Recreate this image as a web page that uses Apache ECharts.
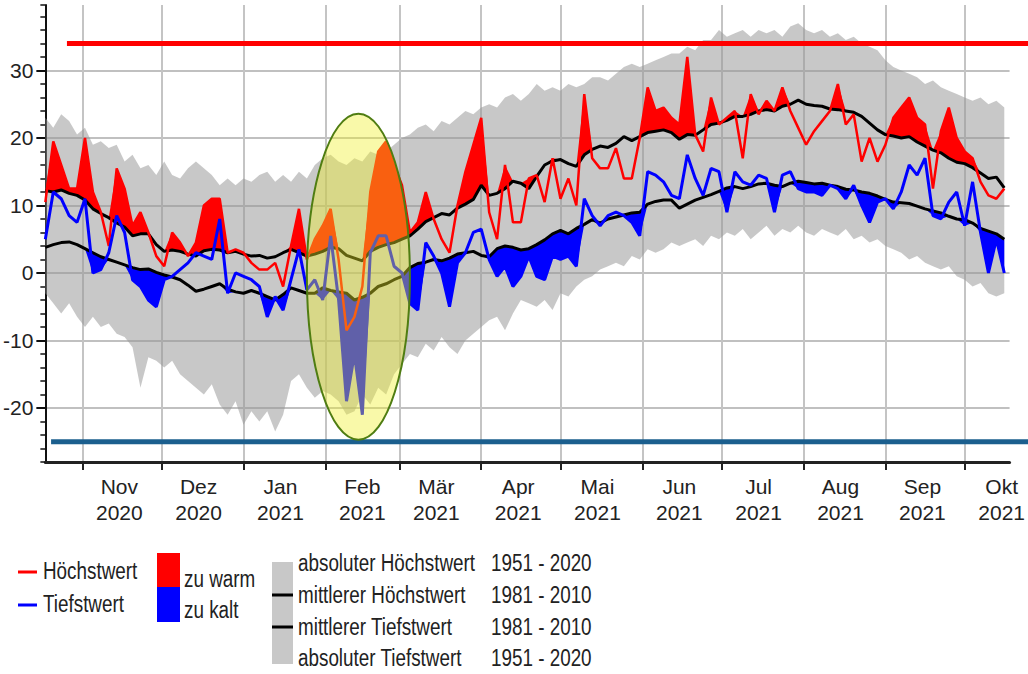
<!DOCTYPE html>
<html>
<head>
<meta charset="utf-8">
<script src="https://cdn.jsdelivr.net/npm/echarts@6/dist/echarts.min.js"></script>
<style>
html,body{margin:0;padding:0;background:#fff;}
#c{width:1028px;height:674px;}
</style>
</head>
<body>
<div id="c"></div>
<script>
// ---------- data (one value every 3 days from 18 Oct 2020) ----------
const startDate = '2020-10-18';
const endDate = '2021-10-18';
const stepDays = 3;
const monthStarts = ['2020-11-01','2020-12-01','2021-01-01','2021-02-01','2021-03-01','2021-04-01',
                     '2021-05-01','2021-06-01','2021-07-01','2021-08-01','2021-09-01','2021-10-01'];
const monthLabels = ['Nov\n2020','Dez\n2020','Jan\n2021','Feb\n2021','Mär\n2021','Apr\n2021',
                     'Mai\n2021','Jun\n2021','Jul\n2021','Aug\n2021','Sep\n2021','Okt\n2021'];
const yTicks = [-20,-10,0,10,20,30];

// Höchstwert
const tMax = [10.5,19.5,16,12.5,12.5,20,12,9,4,15.5,
  12.5,7,9,6,2.5,1,6,4.5,2.5,4.5,
  10,11,11,3,3.5,3,1.5,0.5,0.5,1.5,
  -2,4,9.5,2,5,7,9.5,2,-8.5,-6.5,
  -2,12,18,19.5,16,13,6,7.5,12,8,
  5,3,10,15,19,23,9,5,16,7.5,
  7.5,14,14.5,10.5,17,11,14,10,26.5,17,
  15.5,15.5,18.5,14,14,20,27.5,24,24.5,23,
  22,32,20.5,18,26,22,23,24,17,26.5,
  23.5,25.5,24,27.5,24,21.5,19,21,22.5,24,
  28,22,23.5,16.5,20,16.5,19,23,24.5,26,
  23,22,12.5,21,24.5,20,18,17,13.5,11.5,
  11,12.5];
// Tiefstwert
const tMin = [5,12,11,8.5,7.5,11,0,0.5,3,8.5,
  6,-1,-2,-4,-5,-1,-0.5,0.5,1.5,3,
  2.5,2,8,-3,0,-0.5,-1,-2,-6.5,-3.5,
  -5.5,-1,3.5,-2.5,-1,-4,5.5,-4,-19,-12,
  -21,3,5.5,5.5,1,0,-4.5,-5.5,4.5,2.5,
  0,-5,1.5,3,6,6.5,2,-0.5,1,-2,
  -0.5,2.5,-0.5,-1,2.5,2,2.5,1,11,8.5,
  7,8.5,9,8.5,7.5,5.5,15,14.5,13.5,11.5,
  11,17.5,14,11.5,15.5,15,9,15,13.5,13,
  14.5,14,9,14.5,15,12.5,12,12,11.5,13,
  12.5,11,13,10,7.5,10.5,11,9.5,12,16,
  14.5,17,8.5,8,10.5,12,7,13.5,6,0,
  5,0];
// mittlerer Höchstwert 1981-2010
const meanMax = [12.2,12,12.3,11.8,11.5,10.8,9.5,8.8,8.2,7.4,
  6.8,5.5,5.8,5.8,4.2,3.2,3.4,3.2,2.8,2.5,
  3.3,3.5,3.4,3,3.2,2.8,2.5,2.6,2.2,2.4,
  3,3.5,3,2.5,2.8,3.2,3.8,3.6,2.6,2.2,
  1.8,3.2,3.8,4.2,4.5,5,5.5,6.5,7.6,8.2,
  8.8,8.6,9.6,10.2,10.9,13,11.5,11.8,12.5,13.6,
  13.3,12.5,14.3,16,16.6,16.8,16.2,15.8,17.5,18.3,
  18.8,18.6,19.2,20.2,19.6,20.2,20.8,21,21.2,20.8,
  19.8,20.5,20.4,21.2,22,22.2,22.6,23.2,23.2,23.5,
  24,24.2,24,24.7,25,25.6,25,24.8,24.7,24.3,
  24.2,24,23.8,23.2,22.2,21.2,20.5,20.3,20,20.2,
  19.4,18.8,18.2,17.8,17,16.4,16.2,15.6,14.8,14,
  14.2,12.6];
// mittlerer Tiefstwert 1981-2010
const meanMin = [3.8,4.2,4.5,4.6,4.2,3.6,3,2.4,2,1.6,
  1.2,0.8,0.5,0.6,0.1,-0.3,-0.6,-1,-1.8,-2.7,
  -2.4,-2,-1.6,-2.4,-2.8,-3,-2.6,-3,-3.5,-4,
  -3.2,-2.2,-2.6,-3,-3,-2.2,-2.6,-2.8,-3,-4,
  -3.6,-3,-2,-1.6,-1,-0.5,0.8,1.4,1.6,2,
  1.8,2.2,2.8,3,3.2,2.6,2.4,3.6,4,3.8,
  3.4,3.6,4.2,4.9,5.8,6.3,5.8,6.6,7.2,7.9,
  7.4,8,8.3,8.6,8.9,9,10.2,10.6,10.8,10.8,
  9.6,10.2,10.8,11.2,11.6,12.1,12.6,12.8,12.5,12.8,
  13.2,13.3,13,12.8,13.3,13.6,13.4,13.2,13.3,13,
  12.8,12.4,12.3,12,11.8,11.4,10.9,10.5,10.4,10.3,
  9.9,9.5,9.2,8.9,8.4,8,7.9,7.4,6.6,6.2,
  5.8,5];
// absoluter Höchstwert 1951-2020
const absMax = [23,21.5,23.5,22.5,20.5,21.5,19,19.5,18.5,19,
  16.5,17.5,15.5,16,14.5,16.5,14.5,14,15.5,16.5,
  15.5,14.5,13,14,13,14,13.5,14.5,15,13.5,
  14.5,13.5,15,14,16,17,17.5,16.5,16,17,
  16.5,18,17.5,18,19,20,20.5,21.5,22,21,
  22.5,22,23,24,23.5,24.5,25,24.5,26,26.5,
  25.5,26.5,28,27,27.5,27,28,27.5,28,29,
  29,28.5,29.5,30.5,31,30.5,31,31.5,32,32.5,
  32.5,33.5,33,34.5,34.5,36,35,35.5,36,35,
  36,35.5,36,35,36.5,37,36,35.5,36,35,
  35.5,34.5,35,34,33.5,33,31.5,30.5,30,29.5,
  29,28,28.5,27.5,27,26.5,26,25.5,26,25,
  25.5,24.5];
// absoluter Tiefstwert 1951-2020
const absMin = [-3,-4.5,-6,-4.5,-6.5,-8,-6.5,-8,-7.5,-9,
  -9.5,-11,-17,-12.5,-13,-14,-13,-15,-16,-17,
  -18,-16.5,-19.5,-21,-19,-22.5,-20.5,-22,-20.5,-23.5,
  -21,-16,-15,-17,-18.5,-17.5,-18,-19,-21,-20.5,
  -18,-19.5,-17,-18,-15,-13.5,-12,-12.5,-10.5,-11.5,
  -9.5,-11,-12,-10,-9,-8,-7,-6.5,-8.5,-6,
  -4,-4.5,-5,-4,-5.5,-3,-3.5,-2,-1,-0.5,
  0.5,1,1.5,1,2.5,2,3.5,3,3.5,4.5,
  4,4.5,5,4,5.5,5,6,5.5,6.5,5,
  6,7,5.5,6.5,6,7,6,5.5,6.5,6,
  5.5,6.5,5,5.5,4.5,5,4,3.5,3,2,
  2.5,1.5,1,0.5,1,-0.5,-1,-2,-1.5,-3,
  -3.5,-3];

// reference lines and highlighted period
const refHigh = 34;
const refLow = -25;
const refHighStartDay = 8.3;
const refLowStartDay = 2.3;
const highlightDays = [99, 138];
const highlightTemps = [-24.7, 23.6];

// ---------- chart ----------
const FONT = "'Liberation Sans', Arial, sans-serif";
const DAY = 86400000;
const dayOf = s => (Date.parse(s) - Date.parse(startDate)) / DAY;
const endDay = dayOf(endDate);
const xs = tMax.map((_, i) => i * stepDays);
const pts = arr => arr.map((v, i) => [xs[i], v]);
const tickDays = monthStarts.map(dayOf);
const labelDays = tickDays.map(d => d + 14);

const GL = 45, GR = 18, GT = 5, GB = 212, W = 1028;
const extMax = endDay * (W - GL) / (W - GL - GR);
const yMin = -28, yMax = 39.7;

// band between two series, drawn through the axes
function band(upper, lower, color, z) {
  return {
    type: 'custom', xAxisIndex: 0, yAxisIndex: 0, silent: true, z: z,
    data: [[xs[0], lower[0]]],
    renderItem: function (params, api) {
      const p = [];
      for (let i = 0; i < upper.length; i++) p.push(api.coord([xs[i], upper[i]]));
      for (let i = lower.length - 1; i >= 0; i--) p.push(api.coord([xs[i], lower[i]]));
      return {type: 'polygon', shape: {points: p}, style: {fill: color}};
    }
  };
}
const warmTop = tMax.map((v, i) => Math.max(v, meanMax[i]));
const coldBottom = tMin.map((v, i) => Math.min(v, meanMin[i]));

const line = (arr, color, width, z) => ({type: 'line', symbol: 'none', silent: true,
  xAxisIndex: 0, yAxisIndex: 0, data: pts(arr), lineStyle: {color: color, width: width}, z: z});

const option = {
  animation: false,
  backgroundColor: '#fff',
  grid: [
    {left: GL, right: GR, top: GT, bottom: GB},
    {left: GL, right: 0, top: GT, bottom: GB}
  ],
  xAxis: [
    {type: 'value', gridIndex: 0, min: 0, max: endDay,
     axisLine: {onZero: false, lineStyle: {color: '#222', width: 3}},
     axisTick: {customValues: tickDays, length: 8, lineStyle: {color: '#222', width: 2}},
     axisLabel: {customValues: labelDays, margin: 11, fontSize: 21, lineHeight: 26,
                 fontFamily: FONT, color: '#222',
                 formatter: v => { const k = labelDays.indexOf(v); return k >= 0 ? monthLabels[k] : ''; }},
     splitLine: {show: true, lineStyle: {color: '#c4c4c4', width: 2}}},
    {type: 'value', gridIndex: 1, min: 0, max: extMax, show: false}
  ],
  yAxis: [
    {type: 'value', gridIndex: 0, min: yMin, max: yMax, position: 'left',
     axisLine: {show: true, onZero: false, lineStyle: {color: '#111', width: 2}},
     axisTick: {show: true, customValues: yTicks, length: 9, lineStyle: {color: '#111', width: 2}},
     axisLabel: {customValues: yTicks, margin: 12, fontSize: 21, fontFamily: FONT, color: '#222'},
     splitLine: {show: true, lineStyle: {color: '#c0c0c0', width: 2}}},
    {type: 'value', gridIndex: 0, min: yMin, max: yMax, interval: 2, position: 'left',
     axisLine: {show: false}, axisLabel: {show: false}, splitLine: {show: false},
     axisTick: {show: true, length: 5, lineStyle: {color: '#111', width: 1.5}}},
    {type: 'value', gridIndex: 1, min: yMin, max: yMax, show: false}
  ],
  series: [
    band(absMax, absMin, 'rgba(150,150,150,0.52)', 1),
    band(warmTop, meanMax, '#ff0000', 2),
    band(meanMin, coldBottom, '#0000ff', 2),
    line(meanMax, '#000', 3, 3),
    line(meanMin, '#000', 3, 3),
    line(tMax, '#ff0000', 2.5, 4),
    line(tMin, '#0000ff', 3, 4),
    {type: 'line', symbol: 'none', silent: true, xAxisIndex: 1, yAxisIndex: 2,
     data: [[refHighStartDay, refHigh], [extMax, refHigh]], lineStyle: {color: '#ff0000', width: 5}, z: 5},
    {type: 'line', symbol: 'none', silent: true, xAxisIndex: 1, yAxisIndex: 2,
     data: [[refLowStartDay, refLow], [extMax, refLow]], lineStyle: {color: '#1b5f8e', width: 5}, z: 5}
  ]
};

const chart = echarts.init(document.getElementById('c'), null, {renderer: 'svg', width: 1028, height: 674});
chart.setOption(option);

// highlighted period (ellipse), positioned through the axes
const p1 = chart.convertToPixel({gridIndex: 0}, [highlightDays[0], highlightTemps[0]]);
const p2 = chart.convertToPixel({gridIndex: 0}, [highlightDays[1], highlightTemps[1]]);

const tx = (text, x, y) => ({type: 'text', x: x, y: y, z: 50, scaleX: 0.82,
  style: {text: text, fill: '#222', font: '23px ' + FONT, align: 'left', verticalAlign: 'middle'}});
const ln = (x1, y1, x2, y2, color, w) => ({type: 'line', z: 50,
  shape: {x1: x1, y1: y1, x2: x2, y2: y2}, style: {stroke: color, lineWidth: w}});
const rc = (x, y, w, h, color) => ({type: 'rect', z: 50,
  shape: {x: x, y: y, width: w, height: h}, style: {fill: color}});

chart.setOption({graphic: {elements: [
  {type: 'ellipse', z: 100, silent: true,
   shape: {cx: (p1[0] + p2[0]) / 2, cy: (p1[1] + p2[1]) / 2,
           rx: Math.abs(p2[0] - p1[0]) / 2, ry: Math.abs(p1[1] - p2[1]) / 2},
   style: {fill: 'rgba(240,240,40,0.4)', stroke: '#4f7d12', lineWidth: 2}},
  ln(18, 572, 37, 572, '#ff0000', 3), tx('Höchstwert', 43, 571),
  ln(18, 605, 37, 605, '#0000ff', 3), tx('Tiefstwert', 43, 604),
  rc(157, 553, 23, 34, '#ff0000'), rc(157, 587, 23, 35, '#0000ff'),
  tx('zu warm', 184, 579), tx('zu kalt', 184, 610),
  rc(272, 562, 21, 102, '#c8c8c8'),
  ln(272, 595, 293, 595, '#000', 3), ln(272, 627, 293, 627, '#000', 3),
  tx('absoluter Höchstwert', 298, 563), tx('mittlerer Höchstwert', 298, 595),
  tx('mittlerer Tiefstwert', 298, 627), tx('absoluter Tiefstwert', 298, 658),
  tx('1951 - 2020', 491, 563), tx('1981 - 2010', 491, 595),
  tx('1981 - 2010', 491, 627), tx('1951 - 2020', 491, 658)
]}});
</script>
</body>
</html>
